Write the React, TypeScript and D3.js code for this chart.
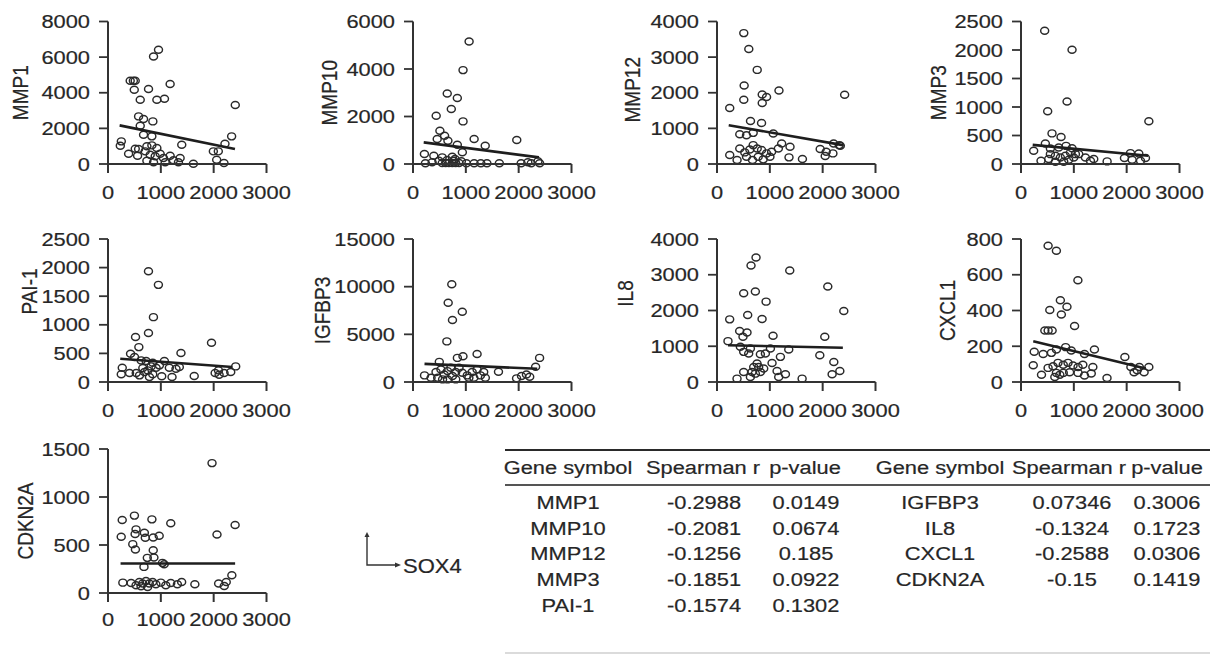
import React from 'react';
import * as d3 from 'd3';

type Pt = [number, number];

// ---------- data ----------
const sox4Ticks = [0, 1000, 2000, 3000];

const genes = ['MMP1', 'MMP10', 'MMP12', 'MMP3', 'PAI-1', 'IGFBP3', 'IL8', 'CXCL1', 'CDKN2A'];

const yTicksMMP1 = [0, 2000, 4000, 6000, 8000];
const yTicksMMP10 = [0, 2000, 4000, 6000];
const yTicksMMP12 = [0, 1000, 2000, 3000, 4000];
const yTicksMMP3 = [0, 500, 1000, 1500, 2000, 2500];
const yTicksPAI1 = [0, 500, 1000, 1500, 2000, 2500];
const yTicksIGFBP3 = [0, 5000, 10000, 15000];
const yTicksIL8 = [0, 1000, 2000, 3000, 4000];
const yTicksCXCL1 = [0, 200, 400, 600, 800];
const yTicksCDKN2A = [0, 500, 1000, 1500];

const mmp1: Pt[] = [
  [956, 6411], [862, 6037], [420, 4673], [480, 4673], [515, 4673], [497, 4168], [767, 4205], [1176, 4486],
  [610, 3607], [925, 3607], [1069, 3664], [2409, 3308], [579, 2673], [673, 2523], [849, 2392], [610, 2150],
  [673, 1645], [830, 1551], [252, 1271], [233, 1028], [2340, 1551], [2214, 1140], [1396, 1084], [516, 860],
  [579, 841], [736, 991], [830, 1047], [925, 897], [390, 579], [560, 467], [704, 710], [799, 523], [893, 430],
  [987, 579], [1050, 336], [1176, 467], [1239, 206], [1365, 336], [736, 187], [862, 93], [1082, 93], [1333, 93],
  [1616, 19], [1994, 710], [2088, 710], [2057, 243], [2195, 56],
];
const mmp10: Pt[] = [
  [1062, 5159], [947, 3953], [648, 2972], [839, 2776], [725, 2313], [439, 2033], [947, 1794], [509, 1402],
  [598, 1192], [458, 1051], [661, 981], [839, 813], [1157, 1051], [1367, 771], [1964, 1009], [216, 421],
  [394, 350], [553, 280], [744, 308], [795, 210], [934, 491], [235, 28], [362, 70], [490, 140], [553, 42],
  [617, 42], [680, 42], [744, 42], [807, 42], [871, 42], [648, 168], [776, 140], [915, 112], [1011, 28],
  [1157, 28], [1284, 28], [1399, 28], [1634, 28], [2047, 28], [2174, 70], [2238, 28], [2365, 112], [2397, 28],
];
const mmp12: Pt[] = [
  [507, 3674], [602, 3228], [761, 2642], [514, 2205], [1173, 2065], [856, 1953], [938, 1879], [507, 1805],
  [856, 1712], [2416, 1944], [241, 1572], [634, 1209], [843, 1153], [431, 837], [558, 809], [685, 874],
  [1065, 856], [1224, 577], [431, 437], [526, 326], [621, 409], [685, 530], [761, 437], [843, 391], [938, 298],
  [1034, 344], [1161, 437], [1382, 484], [241, 251], [380, 112], [558, 205], [672, 112], [780, 205], [875, 130],
  [1002, 205], [1363, 186], [1617, 140], [1953, 419], [2067, 344], [2207, 577], [2314, 530], [2334, 512],
  [2048, 223], [2194, 298],
];
const mmp3: Pt[] = [
  [448, 2338], [966, 2003], [872, 1097], [505, 924], [2420, 751], [587, 537], [758, 473], [461, 358],
  [240, 231], [556, 271], [714, 289], [853, 318], [966, 277], [379, 58], [524, 87], [556, 173], [651, 144],
  [745, 115], [840, 144], [903, 75], [998, 115], [1093, 173], [1219, 115], [1314, 58], [1377, 87], [809, 40],
  [651, 40], [1630, 46], [1958, 104], [2072, 191], [2103, 75], [2230, 185], [2262, 58], [2356, 104],
  [935, 202], [1030, 173],
];
const pai1: Pt[] = [
  [766, 1936], [954, 1698], [860, 1134], [766, 855], [1959, 686], [521, 785], [584, 610], [1381, 506],
  [427, 494], [502, 436], [628, 378], [722, 366], [847, 337], [1067, 366], [270, 250], [408, 157], [251, 134],
  [534, 157], [659, 244], [753, 203], [816, 273], [910, 250], [973, 291], [596, 116], [691, 174], [785, 87],
  [847, 134], [1017, 99], [1161, 250], [1212, 87], [1287, 233], [1350, 262], [1632, 105], [2028, 157],
  [2103, 128], [2197, 157], [2323, 174], [2417, 273], [2091, 203],
];
const igfbp3: Pt[] = [
  [734, 10253], [666, 8313], [933, 7378], [747, 6512], [641, 4260], [1213, 2944], [946, 2702], [840, 2529],
  [2396, 2529], [498, 2113], [2321, 1593], [1618, 1074], [218, 693], [342, 450], [436, 1039], [529, 1316],
  [591, 797], [653, 1143], [716, 1489], [809, 1039], [871, 1489], [933, 970], [1027, 693], [1120, 1039],
  [1213, 1316], [1276, 693], [1369, 450], [1338, 1039], [467, 450], [560, 277], [809, 277], [1058, 450],
  [1151, 450], [1960, 381], [2054, 623], [2147, 797], [2209, 554], [747, 623], [653, 277],
];
const il8: Pt[] = [
  [739, 3485], [644, 3260], [1377, 3119], [2097, 2670], [505, 2482], [726, 2529], [929, 2248], [2400, 1986],
  [581, 1874], [853, 1761], [240, 1752], [429, 1424], [568, 1386], [492, 1265], [1061, 1293], [2040, 1265],
  [208, 1143], [442, 984], [505, 843], [600, 796], [632, 937], [821, 778], [916, 796], [1011, 937], [1358, 909],
  [1946, 749], [1200, 703], [2211, 562], [1042, 534], [758, 515], [695, 422], [789, 422], [884, 375],
  [663, 281], [726, 234], [821, 281], [505, 281], [379, 94], [632, 141], [1137, 309], [1168, 141], [1295, 215],
  [1611, 94], [2179, 215], [2325, 309],
];
const cxcl1: Pt[] = [
  [513, 762], [670, 734], [1077, 569], [745, 457], [870, 421], [545, 403], [764, 378], [1014, 313],
  [451, 288], [514, 288], [589, 288], [250, 169], [420, 157], [576, 163], [670, 182], [845, 195], [951, 176],
  [1202, 157], [1390, 182], [232, 94], [388, 41], [513, 79], [607, 88], [700, 107], [800, 97], [890, 107],
  [985, 92], [1080, 84], [1170, 97], [670, 51], [735, 41], [800, 51], [920, 54], [1080, 51], [1202, 36],
  [1330, 47], [640, 28], [1360, 84], [1628, 22], [1966, 140], [2080, 84], [2200, 66], [2240, 84], [2330, 54],
  [2420, 84], [2140, 54],
];
const cdkn2a: Pt[] = [
  [1969, 1353], [500, 806], [269, 760], [831, 767], [1188, 726], [2406, 708], [531, 663], [688, 628],
  [513, 614], [706, 576], [856, 579], [969, 597], [250, 586], [2063, 610], [469, 509], [519, 453], [856, 446],
  [744, 366], [869, 370], [681, 272], [1031, 314], [1063, 300], [281, 108], [438, 105], [531, 80], [594, 115],
  [656, 98], [719, 126], [781, 98], [844, 115], [906, 91], [1000, 108], [1094, 80], [1188, 105], [1313, 91],
  [1394, 115], [750, 63], [625, 70], [1644, 91], [2094, 98], [2200, 73], [2238, 115], [2344, 185],
];

// fitted line end points [sox4, value]
const mmp1Fit: Pt[] = [[220, 2168], [2403, 841]];
const mmp10Fit: Pt[] = [[203, 911], [2384, 280]];
const mmp12Fit: Pt[] = [[222, 1088], [2384, 530]];
const mmp3Fit: Pt[] = [[221, 335], [2407, 144]];
const pai1Fit: Pt[] = [[232, 407], [2354, 262]];
const igfbp3Fit: Pt[] = [[218, 1905], [2352, 1386]];
const il8Fit: Pt[] = [[208, 1030], [2382, 956]];
const cxcl1Fit: Pt[] = [[232, 228], [2361, 75]];
const cdkn2aFit: Pt[] = [[238, 307], [2406, 307]];

const pointsByGene = [mmp1, mmp10, mmp12, mmp3, pai1, igfbp3, il8, cxcl1, cdkn2a];
const fitByGene = [mmp1Fit, mmp10Fit, mmp12Fit, mmp3Fit, pai1Fit, igfbp3Fit, il8Fit, cxcl1Fit, cdkn2aFit];
const yTicksByGene = [yTicksMMP1, yTicksMMP10, yTicksMMP12, yTicksMMP3, yTicksPAI1, yTicksIGFBP3, yTicksIL8, yTicksCXCL1, yTicksCDKN2A];

const tableHeaders = ['Gene symbol', 'Spearman r', 'p-value'];
const tableGenesLeft = ['MMP1', 'MMP10', 'MMP12', 'MMP3', 'PAI-1'];
const spearmanLeft = ['-0.2988', '-0.2081', '-0.1256', '-0.1851', '-0.1574'];
const pLeft = ['0.0149', '0.0674', '0.185', '0.0922', '0.1302'];
const tableGenesRight = ['IGFBP3', 'IL8', 'CXCL1', 'CDKN2A'];
const spearmanRight = ['0.07346', '-0.1324', '-0.2588', '-0.15'];
const pRight = ['0.3006', '0.1723', '0.0306', '0.1419'];
const xAxisName = 'SOX4';

// ---------- layout ----------
const FONT = '"Liberation Sans", Arial, Helvetica, sans-serif';
const FS = 19;
const SX = 1.15;
const INK = '#333';
const TEXT = '#262626';
const COLS = [108, 413, 717, 1021];
const ROWS: [number, number][] = [[21.5, 164], [239, 382], [449, 593]];
const PW = 158.5;
const TICK = 9;
const panelLayout = [
  { c: 0, r: 0, gap: 80, dy: 0 },
  { c: 1, r: 0, gap: 76, dy: 0 },
  { c: 2, r: 0, gap: 77, dy: -3 },
  { c: 3, r: 0, gap: 75, dy: 0 },
  { c: 0, r: 1, gap: 71, dy: -19 },
  { c: 1, r: 1, gap: 83, dy: 0 },
  { c: 2, r: 1, gap: 84, dy: -17 },
  { c: 3, r: 1, gap: 66, dy: 0 },
  { c: 0, r: 2, gap: 75, dy: 0 },
];

function T(props: { x: number; y: number; anchor?: string; rot?: boolean; size?: number; sx?: number; children: React.ReactNode }) {
  const { x, y, anchor = 'middle', rot = false, size = FS, sx = SX, children } = props;
  return (
    <text
      transform={`translate(${x},${y}) scale(${sx},1)${rot ? ' rotate(-90)' : ''}`}
      textAnchor={anchor}
      fontSize={size}
      fontFamily={FONT}
      fill={TEXT}
      stroke={TEXT}
      strokeWidth={0.2}
    >
      {children}
    </text>
  );
}

function Panel({ i }: { i: number }) {
  const L = panelLayout[i];
  const x0 = COLS[L.c];
  const [top, bot] = ROWS[L.r];
  const yt = yTicksByGene[i];
  const x = d3.scaleLinear().domain([0, 3000]).range([x0, x0 + PW]);
  const y = d3.scaleLinear().domain([0, yt[yt.length - 1]]).range([bot, top]);
  const line = d3.line<Pt>().x((d) => x(d[0])).y((d) => y(d[1]));
  const xLabelDy = L.r === 2 ? 33 : 34.5;
  return (
    <g>
      {pointsByGene[i].map((d, k) => (
        <ellipse key={k} cx={x(d[0])} cy={y(d[1])} rx={4} ry={3.5} fill="none" stroke="#2a2a2a" strokeWidth={1.45} />
      ))}
      <path d={line(fitByGene[i]) || ''} stroke="#1e1e1e" strokeWidth={2.6} fill="none" />
      <path d={`M${x0},${top}V${bot + TICK}`} stroke={INK} strokeWidth={2} fill="none" />
      <path d={`M${x0},${bot}H${x(3000)}`} stroke={INK} strokeWidth={1.8} fill="none" />
      {yt.map((t) => (
        <g key={'y' + t}>
          <line x1={x0 - TICK} x2={x0} y1={y(t)} y2={y(t)} stroke={INK} strokeWidth={1.8} />
          <T x={x0 - 18} y={y(t) + 6.6} anchor="end">{t}</T>
        </g>
      ))}
      {sox4Ticks.map((t) => (
        <g key={'x' + t}>
          <line x1={x(t)} x2={x(t)} y1={bot} y2={bot + TICK} stroke={INK} strokeWidth={2} />
          <T x={x(t)} y={bot + xLabelDy}>{t}</T>
        </g>
      ))}
      <T x={x0 - L.gap} y={(top + bot) / 2 + L.dy} rot>{genes[i]}</T>
    </g>
  );
}

function Table() {
  const lx = [568, 704, 806];
  const rx = [940, 1072, 1167];
  const hx = [[568, 703, 805], [940, 1069, 1167]];
  const rowY = [509, 535, 560, 586, 612];
  return (
    <g>
      <line x1={505} x2={1210} y1={450} y2={450} stroke="#2a2a2a" strokeWidth={2} />
      <line x1={505} x2={1210} y1={485} y2={485} stroke="#555" strokeWidth={2} />
      <line x1={505} x2={1210} y1={653} y2={653} stroke="#cfcfcf" strokeWidth={1.5} />
      {hx.map((cols, s) => cols.map((cx, k) => (
        <T key={`h${s}${k}`} x={cx} y={474}>{tableHeaders[k]}</T>
      )))}
      {tableGenesLeft.map((g, k) => (
        <g key={'l' + g}>
          <T x={lx[0]} y={rowY[k]}>{g}</T>
          <T x={lx[1]} y={rowY[k]}>{spearmanLeft[k]}</T>
          <T x={lx[2]} y={rowY[k]}>{pLeft[k]}</T>
        </g>
      ))}
      {tableGenesRight.map((g, k) => (
        <g key={'r' + g}>
          <T x={rx[0]} y={rowY[k]}>{g}</T>
          <T x={rx[1]} y={rowY[k]}>{spearmanRight[k]}</T>
          <T x={rx[2]} y={rowY[k]}>{pRight[k]}</T>
        </g>
      ))}
    </g>
  );
}

function AxisKey() {
  return (
    <g>
      <path d="M367,535V565H397" stroke={INK} strokeWidth={1.4} fill="none" />
      <path d="M364.5,537L367,532L369.5,537Z" fill={INK} />
      <path d="M395,562.5L401,565L395,567.5Z" fill={INK} />
      <T x={403} y={573} anchor="start" size={20} sx={1.1}>{xAxisName}</T>
    </g>
  );
}

export default function App() {
  return (
    <svg width={1218} height={655} style={{ position: 'absolute', left: 0, top: 0, background: '#fff' }}>
      <rect width={1218} height={655} fill="#fff" />
      {genes.map((g, i) => <Panel key={g} i={i} />)}
      <AxisKey />
      <Table />
    </svg>
  );
}
